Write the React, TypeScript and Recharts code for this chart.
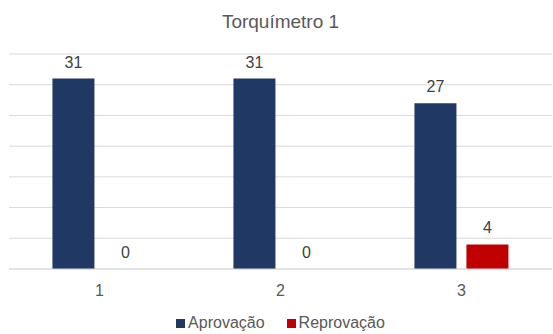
import { BarChart, Bar, XAxis, YAxis, CartesianGrid, Legend, LabelList } from "recharts";

const categories = ["1", "2", "3"];
const aprovacao = [31, 31, 27];
const reprovacao = [0, 0, 4];
const yTicks = [0, 5, 10, 15, 20, 25, 30, 35];

const data = categories.map((name, i) => ({
  name,
  Aprovação: aprovacao[i],
  Reprovação: reprovacao[i],
}));

const FONT = "'Liberation Sans', Arial, sans-serif";
const NAVY = "#203864";
const RED = "#C00000";

function ChartLegend({ payload }: any) {
  return (
    <div
      style={{
        display: "flex",
        justifyContent: "center",
        paddingTop: 8,
        height: 30,
        boxSizing: "border-box",
        fontFamily: FONT,
        fontSize: 16,
        lineHeight: "18px",
        color: "#595959",
      }}
    >
      {(payload || []).map((p: any, i: number) => (
        <div key={p.value} style={{ display: "flex", alignItems: "center", marginLeft: i ? 22 : 0 }}>
          <span style={{ width: 9, height: 9, background: p.color, marginRight: 3, display: "inline-block" }} />
          <span>{p.value}</span>
        </div>
      ))}
    </div>
  );
}

// draws the value above the bar, also when the bar has no height
function ValueLabel(props: any) {
  const { x, y, width, value } = props;
  return (
    <text
      x={x + width / 2}
      y={y - 11}
      textAnchor="middle"
      fill="#404040"
      fontSize={16}
      fontFamily={FONT}
    >
      {value}
    </text>
  );
}

export default function App() {
  return (
    <div style={{ position: "relative", width: 553, height: 334, background: "#fff" }}>
      <style>{"body{margin:0}"}</style>
      <div
        style={{
          position: "absolute",
          top: 11,
          left: 0,
          width: 561,
          textAlign: "center",
          fontFamily: FONT,
          fontSize: 19,
          color: "#595959",
        }}
      >
        Torquímetro 1
      </div>
      <BarChart
        width={553}
        height={334}
        data={data}
        margin={{ top: 54, right: 1, left: 9, bottom: 0 }}
        barCategoryGap="24%"
        barGap={10}
      >
        <CartesianGrid vertical={false} stroke="#d9d9d9" />
        <YAxis hide domain={[0, 35]} ticks={yTicks} />
        <XAxis
          dataKey="name"
          height={35}
          tickLine={false}
          axisLine={{ stroke: "#d9d9d9" }}
          tickMargin={10}
          tick={{ fill: "#595959", fontSize: 16, fontFamily: FONT }}
        />
        <Legend verticalAlign="bottom" content={<ChartLegend />} />
        <Bar dataKey="Aprovação" fill={NAVY} isAnimationActive={false}>
          <LabelList dataKey="Aprovação" content={<ValueLabel />} />
        </Bar>
        <Bar dataKey="Reprovação" fill={RED} minPointSize={0.01} isAnimationActive={false}>
          <LabelList dataKey="Reprovação" content={<ValueLabel />} />
        </Bar>
      </BarChart>
    </div>
  );
}
